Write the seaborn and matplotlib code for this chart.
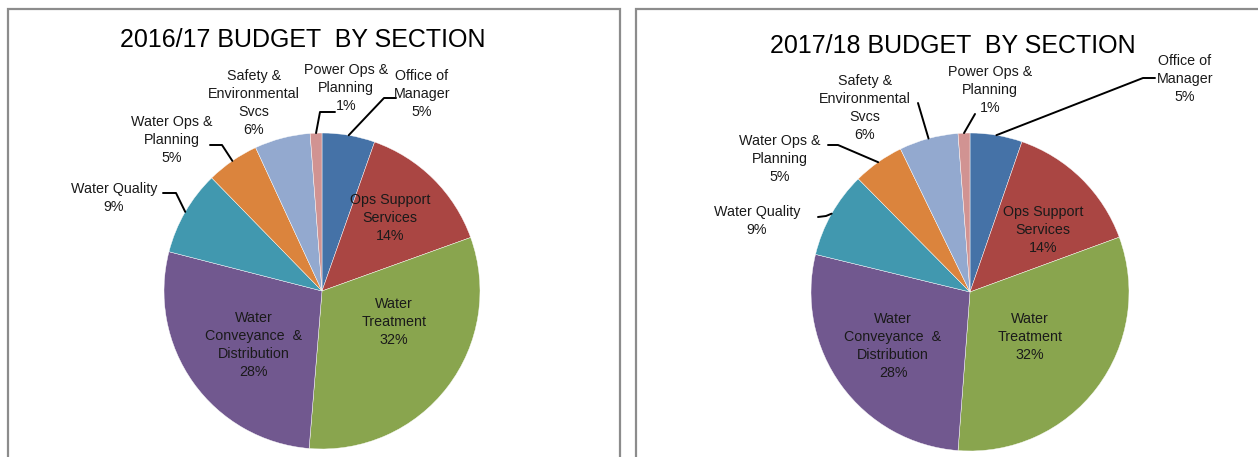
import matplotlib
matplotlib.use("Agg")
import matplotlib.pyplot as plt
from matplotlib.patches import Rectangle
import numpy as np
import seaborn as sns

# ---------------- data ----------------
sections = ["Office of\nManager", "Ops Support\nServices", "Water\nTreatment",
            "Water\nConveyance  &\nDistribution", "Water Quality",
            "Water Ops &\nPlanning", "Safety &\nEnvironmental\nSvcs",
            "Power Ops &\nPlanning"]
budget_2016_17 = [5.4, 14.1, 31.8, 27.7, 8.7, 5.4, 5.7, 1.2]
budget_2017_18 = [5.3, 14.1, 31.8, 27.6, 8.8, 5.2, 6.0, 1.2]
titles = ["2016/17 BUDGET  BY SECTION", "2017/18 BUDGET  BY SECTION"]

colors = ["#4572A7", "#AA4643", "#89A54E", "#71588F",
          "#4198AF", "#DB843D", "#93A9CF", "#D19392"]

# ---------------- layout (pixels, from top-left) ----------------
W, H = 1258, 457
layouts = [
    dict(center=(322, 291), R=158, title=(303, 40),
         labels=[(422, 94), (390, 218), (394, 322), (254, 345), (114, 198),
                 (172, 140), (254, 103), (346, 88)],
         leaders={0: [(384, 98), (396, 98)], 7: [(320, 112), (335, 112)],
                  5: [(222, 145), (210, 145)], 4: [(176, 193), (163, 193)]}),
    dict(center=(970, 292), R=159, title=(953, 46),
         labels=[(1185, 79), (1043, 230), (1030, 337), (893, 346), (757, 221),
                 (780, 159), (865, 108), (990, 90)],
         leaders={0: [(1143, 78), (1155, 78)], 7: [(975, 114)],
                  6: [(918, 103)], 5: [(838, 145), (828, 145)],
                  4: [(826, 216), (818, 217)]}),
]
boxes = [(8, 9, 612), (636, 9, 640)]

sns.set_theme(style="white")
plt.rcParams["font.family"] = ["Liberation Sans", "DejaVu Sans"]

fig = plt.figure(figsize=(W / 100, H / 100), dpi=100)
fig.patch.set_facecolor("white")

for (bx, by, bw) in boxes:
    fig.patches.append(Rectangle((bx / W, (H - 520) / H), bw / W, (520 - by) / H,
                                 transform=fig.transFigure, fill=False,
                                 edgecolor="#8c8c8c", linewidth=1.6))

palette = sns.color_palette(colors)

for values, title, lay in zip([budget_2016_17, budget_2017_18], titles, layouts):
    cx, cy = lay["center"]
    R = lay["R"]
    ax = fig.add_axes([(cx - R) / W, (H - cy - R) / H, 2 * R / W, 2 * R / H])
    wedges, _ = ax.pie(values, colors=palette, startangle=90, counterclock=False,
                       radius=1.0, wedgeprops=dict(edgecolor="white", linewidth=0.3))
    ax.set_xlim(-1, 1)
    ax.set_ylim(-1, 1)
    ax.set_aspect("equal")
    ax.axis("off")

    def p2d(x, y):
        return ((x - cx) / R, (cy - y) / R)

    for i, (w, v) in enumerate(zip(wedges, values)):
        tx, ty = p2d(*lay["labels"][i])
        ax.text(tx, ty, f"{sections[i]}\n{round(v)}%", ha="center", va="center",
                multialignment="center", fontsize=10.3, linespacing=1.38,
                color="#1a1a1a", clip_on=False)
        if i in lay["leaders"]:
            ang = np.deg2rad((w.theta1 + w.theta2) / 2)
            pts = [(np.cos(ang), np.sin(ang))] + [p2d(*p) for p in lay["leaders"][i]]
            xs, ys = zip(*pts)
            ax.plot(xs, ys, color="black", linewidth=1.4, clip_on=False)

    tx, ty = lay["title"]
    fig.text(tx / W, 1 - ty / H, title, ha="center", va="center",
             fontsize=18, color="black")

fig.savefig("out.png", dpi=100, facecolor="white")
